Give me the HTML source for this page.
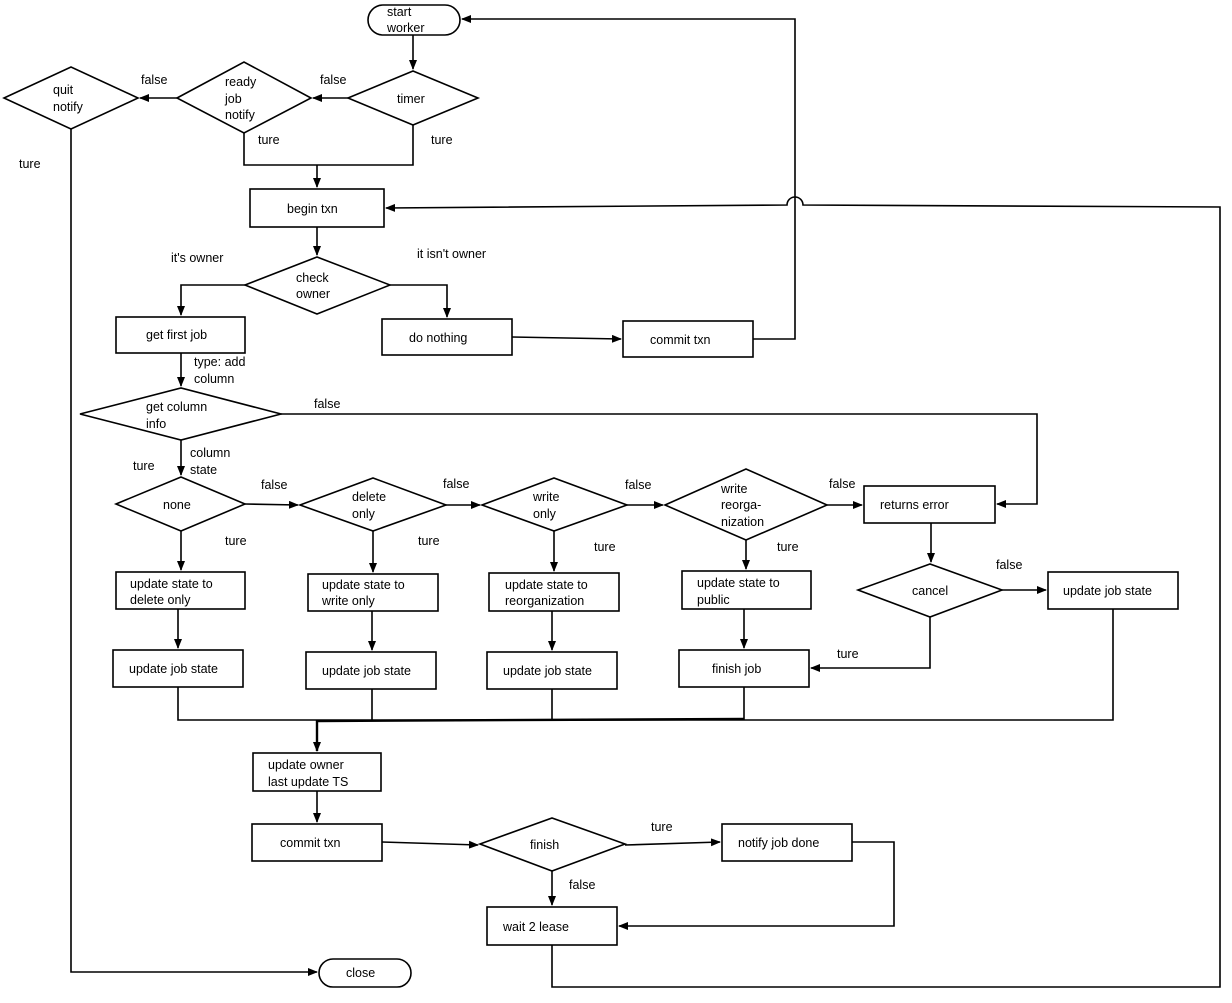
<!DOCTYPE html>
<html><head><meta charset="utf-8"><style>
html,body{margin:0;padding:0;background:#fff}
svg text{font-family:"Liberation Sans",Arial,sans-serif;font-size:12.5px;fill:#000}
</style></head><body>
<svg width="1232" height="998" viewBox="0 0 1232 998" xmlns="http://www.w3.org/2000/svg">
<defs><marker id="a" markerWidth="10" markerHeight="8" refX="9" refY="4" orient="auto" markerUnits="userSpaceOnUse"><path d="M0,0 L10,4 L0,8 z" fill="#000"/></marker></defs>
<g fill="#fff" stroke="#000" stroke-width="1.6">
<rect x="368" y="5" width="92" height="30" rx="15"/>
<polygon points="348,98 413,71 478,98 413,125"/>
<polygon points="177,98 244,62 311,98 244,133"/>
<polygon points="4,98 71,67 138,98 71,129"/>
<rect x="250" y="189" width="134" height="38"/>
<polygon points="245,285 317,257 390,285 317,314"/>
<rect x="116" y="317" width="129" height="36"/>
<rect x="382" y="319" width="130" height="36"/>
<rect x="623" y="321" width="130" height="36"/>
<polygon points="80,414 181,388 281,414 181,440"/>
<polygon points="116,504 181,477 245,504 181,531"/>
<polygon points="300,505 373,478 446,505 373,531"/>
<polygon points="482,505 554,478 627,505 554,531"/>
<polygon points="665,505 746,469 827,505 746,540"/>
<rect x="864" y="486" width="131" height="37"/>
<rect x="116" y="572" width="129" height="37"/>
<rect x="308" y="574" width="130" height="37"/>
<rect x="489" y="573" width="130" height="38"/>
<rect x="682" y="571" width="129" height="38"/>
<polygon points="858,590 930,564 1002,590 930,617"/>
<rect x="1048" y="572" width="130" height="37"/>
<rect x="113" y="650" width="130" height="37"/>
<rect x="306" y="652" width="130" height="37"/>
<rect x="487" y="652" width="130" height="37"/>
<rect x="679" y="650" width="130" height="37"/>
<rect x="253" y="753" width="128" height="38"/>
<rect x="252" y="824" width="130" height="37"/>
<polygon points="480,844 552,818 625,844 552,871"/>
<rect x="722" y="824" width="130" height="37"/>
<rect x="487" y="907" width="130" height="38"/>
<rect x="319" y="959" width="92" height="28" rx="14"/>
</g>
<g fill="none" stroke="#000" stroke-width="1.6">
<path d="M753,339 H795 V19 H462" marker-end="url(#a)"/>
<path d="M413,35 V69" marker-end="url(#a)"/>
<path d="M348,98 H313" marker-end="url(#a)"/>
<path d="M177,98 H140" marker-end="url(#a)"/>
<path d="M244,133 V165 H413 V125"/>
<path d="M317,165 V187" marker-end="url(#a)"/>
<path d="M552,945 V987 H1220 V207 L803,205 A8,8 0 0 0 787,205 L386,208" marker-end="url(#a)"/>
<path d="M317,227 V255" marker-end="url(#a)"/>
<path d="M245,285 H181 V315" marker-end="url(#a)"/>
<path d="M390,285 H447 V317" marker-end="url(#a)"/>
<path d="M512,337 L621,339" marker-end="url(#a)"/>
<path d="M181,353 V386" marker-end="url(#a)"/>
<path d="M281,414 H1037 V504 H997" marker-end="url(#a)"/>
<path d="M181,440 V475" marker-end="url(#a)"/>
<path d="M245,504 L298,505" marker-end="url(#a)"/>
<path d="M446,505 H480" marker-end="url(#a)"/>
<path d="M627,505 H663" marker-end="url(#a)"/>
<path d="M827,505 H862" marker-end="url(#a)"/>
<path d="M181,531 V570" marker-end="url(#a)"/>
<path d="M373,531 V572" marker-end="url(#a)"/>
<path d="M554,531 V571" marker-end="url(#a)"/>
<path d="M746,540 V569" marker-end="url(#a)"/>
<path d="M178,609 V648" marker-end="url(#a)"/>
<path d="M372,611 V650" marker-end="url(#a)"/>
<path d="M552,611 V650" marker-end="url(#a)"/>
<path d="M744,609 V648" marker-end="url(#a)"/>
<path d="M931,523 V562" marker-end="url(#a)"/>
<path d="M1002,590 H1046" marker-end="url(#a)"/>
<path d="M930,617 V668 H811" marker-end="url(#a)"/>
<path d="M178,687 V720 H1113 V609"/>
<path d="M372,689 V720 M552,689 V720 M744,687 V720"/>
<path d="M317,721 L744,719" stroke-width="2.4"/>
<path d="M317,720 V751" stroke-width="2.4" marker-end="url(#a)"/>
<path d="M317,791 V822" marker-end="url(#a)"/>
<path d="M382,842 L478,845" marker-end="url(#a)"/>
<path d="M625,845 L720,842" marker-end="url(#a)"/>
<path d="M852,842 H894 V926 H619" marker-end="url(#a)"/>
<path d="M552,871 V905" marker-end="url(#a)"/>
<path d="M71,129 V972 H317" marker-end="url(#a)"/>
</g>
<g>
<text x="387" y="16">start</text><text x="387" y="32">worker</text>
<text x="397" y="103">timer</text>
<text x="225" y="86">ready</text><text x="225" y="103">job</text><text x="225" y="119">notify</text>
<text x="53" y="94">quit</text><text x="53" y="111">notify</text>
<text x="320" y="84">false</text><text x="141" y="84">false</text>
<text x="258" y="144">ture</text><text x="431" y="144">ture</text><text x="19" y="168">ture</text>
<text x="287" y="213">begin txn</text>
<text x="296" y="282">check</text><text x="296" y="298">owner</text>
<text x="171" y="262">it's owner</text><text x="417" y="258">it isn't owner</text>
<text x="146" y="339">get first job</text>
<text x="409" y="342">do nothing</text>
<text x="650" y="344">commit txn</text>
<text x="194" y="366">type: add</text><text x="194" y="383">column</text>
<text x="146" y="411">get column</text><text x="146" y="428">info</text>
<text x="314" y="408">false</text>
<text x="190" y="457">column</text><text x="190" y="474">state</text><text x="133" y="470">ture</text>
<text x="163" y="509">none</text>
<text x="352" y="501">delete</text><text x="352" y="518">only</text>
<text x="533" y="501">write</text><text x="533" y="518">only</text>
<text x="721" y="493">write</text><text x="721" y="509">reorga-</text><text x="721" y="526">nization</text>
<text x="261" y="489">false</text><text x="443" y="488">false</text><text x="625" y="489">false</text><text x="829" y="488">false</text>
<text x="880" y="509">returns error</text>
<text x="225" y="545">ture</text><text x="418" y="545">ture</text><text x="594" y="551">ture</text><text x="777" y="551">ture</text>
<text x="130" y="588">update state to</text><text x="130" y="604">delete only</text>
<text x="322" y="589">update state to</text><text x="322" y="605">write only</text>
<text x="505" y="589">update state to</text><text x="505" y="605">reorganization</text>
<text x="697" y="587">update state to</text><text x="697" y="604">public</text>
<text x="912" y="595">cancel</text><text x="996" y="569">false</text>
<text x="1063" y="595">update job state</text>
<text x="837" y="658">ture</text>
<text x="129" y="673">update job state</text>
<text x="322" y="675">update job state</text>
<text x="503" y="675">update job state</text>
<text x="712" y="673">finish job</text>
<text x="268" y="769">update owner</text><text x="268" y="786">last update TS</text>
<text x="280" y="847">commit txn</text>
<text x="530" y="849">finish</text>
<text x="651" y="831">ture</text><text x="569" y="889">false</text>
<text x="738" y="847">notify job done</text>
<text x="503" y="931">wait 2 lease</text>
<text x="346" y="977">close</text>
</g>
</svg>
</body></html>
